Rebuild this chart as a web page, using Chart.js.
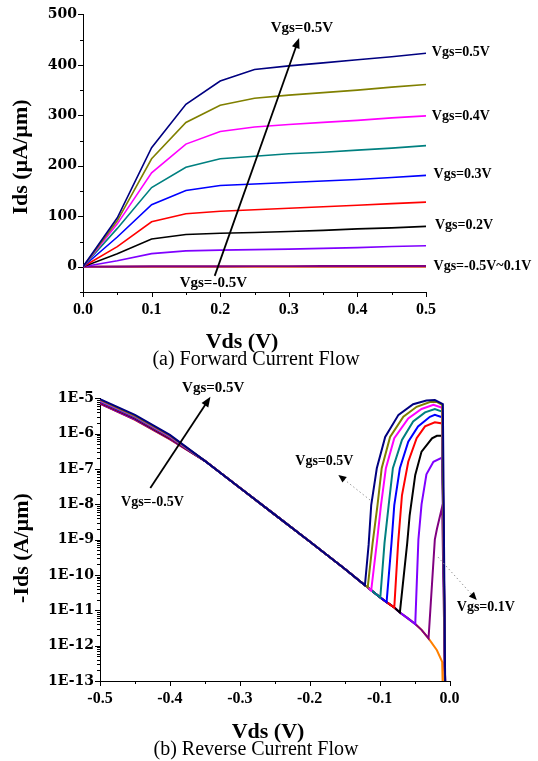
<!DOCTYPE html>
<html>
<head>
<meta charset="utf-8">
<script src="https://cdn.jsdelivr.net/npm/chart.js@4.4.0/dist/chart.umd.min.js"></script>
<style>
  html, body { margin: 0; padding: 0; background: #fff; }
  #wrap { position: relative; width: 538px; height: 761px; }
  canvas { position: absolute; left: 0; }
</style>
</head>
<body>
<div id="wrap">
  <canvas id="forward" width="538" height="372" style="top:0"></canvas>
  <canvas id="reverse" width="538" height="389" style="top:372px"></canvas>
</div>
<script>
// ---- (a) forward current, Ids in uA/um ----
const fwdVds = [0, 0.05, 0.1, 0.15, 0.2, 0.25, 0.3, 0.35, 0.4, 0.45, 0.5];
const idsF050 = [0, 97, 236, 322, 368, 391, 398, 404, 410, 416, 423];
const idsF045 = [0, 91, 214, 286, 320, 334, 340, 345, 350, 356, 361];
const idsF040 = [0, 85, 186, 243, 268, 277, 282, 286, 290, 295, 299];
const idsF035 = [0, 76, 157, 197, 214, 219, 224, 227, 231, 235, 240];
const idsF030 = [0, 59, 123, 151, 161, 164, 167, 170, 173, 177, 181];
const idsF025 = [0, 40, 89, 105, 110, 113, 116, 119, 122, 125, 128];
const idsF020 = [0, 26, 55, 64, 66.5, 68, 70, 72, 75, 77, 80];
const idsF015 = [0, 12, 26, 31.5, 33, 34, 35, 36.5, 38, 40, 41.5];
const idsF010 = [0, 0.3, 0.6, 0.8, 0.9, 1, 1, 1.1, 1.1, 1.2, 1.2];
const idsFlow = [0, 0, 0, 0, 0, 0, 0, 0, 0, 0, 0];
const fwdSeries = [idsF050, idsF045, idsF040, idsF035, idsF030, idsF025, idsF020, idsF015, idsF010, idsFlow];

// ---- (b) reverse current, -Ids in A/um ----
const vgsNames = ['0.5', '0.45', '0.4', '0.35', '0.3', '0.25', '0.2', '0.15', '0.1', '-0.5~0.05'];
const revHeadVds = [-0.5, -0.45, -0.4];
const revHeadIds = [
  [9.4e-6, 3.4e-6, 9.2e-7],
  [9.0e-6, 3.2e-6, 8.8e-7],
  [8.6e-6, 3.1e-6, 8.4e-7],
  [8.3e-6, 3.0e-6, 8.1e-7],
  [8.0e-6, 2.9e-6, 7.9e-7],
  [7.7e-6, 2.8e-6, 7.6e-7],
  [7.5e-6, 2.7e-6, 7.4e-7],
  [7.3e-6, 2.6e-6, 7.2e-7],
  [7.1e-6, 2.5e-6, 7.0e-7],
  [7.0e-6, 2.45e-6, 6.9e-7]
];
const revEnvVds = [-0.35, -0.3, -0.25, -0.2, -0.15, -0.121, -0.117, -0.112, -0.099, -0.09, -0.079, -0.071, -0.06, -0.049, -0.04, -0.03];
const revEnvIds = [1.7e-7, 2.95e-8, 5.1e-9, 8.9e-10, 1.5e-10, 5.1e-11, 4.5e-11, 3.7e-11, 2.3e-11, 1.7e-11, 1.2e-11, 8.7e-12, 6.0e-12, 4.1e-12, 2.8e-12, 1.6e-12];
const revFootVds = [-0.121, -0.117, -0.112, -0.099, -0.09, -0.079, -0.071, -0.049, -0.03, -0.03];
const revRiseVds = [
  [-0.1157, -0.112, -0.104, -0.092, -0.073, -0.052, -0.033, -0.021, -0.0095, -0.006],
  [-0.110, -0.103, -0.097, -0.085, -0.066, -0.047, -0.028, -0.019, -0.0105, -0.006],
  [-0.104, -0.098, -0.091, -0.079, -0.059, -0.040, -0.023, -0.0105, -0.006],
  [-0.093, -0.087, -0.081, -0.068, -0.052, -0.035, -0.021, -0.0105, -0.006],
  [-0.083, -0.079, -0.071, -0.059, -0.045, -0.028, -0.021, -0.0105, -0.006],
  [-0.0735, -0.068, -0.059, -0.047, -0.035, -0.021, -0.0105, -0.006],
  [-0.0605, -0.057, -0.049, -0.040, -0.025, -0.018, -0.0105, -0.006],
  [-0.0445, -0.040, -0.033, -0.023, -0.0105, -0.006],
  [-0.021, -0.018, -0.0105, -0.006],
  [-0.018, -0.0105, -0.0095]
];
const revRiseIds = [
  [7.1e-10, 9.5e-9, 1.05e-7, 8.1e-7, 3.4e-6, 6.8e-6, 8.7e-6, 8.9e-6, 6.8e-6, 3e-14],
  [8e-10, 9.5e-9, 1.05e-7, 8.1e-7, 3.0e-6, 5.75e-6, 7.8e-6, 8.0e-6, 6.5e-6, 3e-14],
  [8e-10, 9.5e-9, 1.05e-7, 7.4e-7, 2.7e-6, 5.0e-6, 6.5e-6, 5.4e-6, 3e-14],
  [8e-10, 9.5e-9, 1.05e-7, 6.6e-7, 2.2e-6, 4.0e-6, 5.0e-6, 4.2e-6, 3e-14],
  [8e-10, 9.5e-9, 1.05e-7, 5.9e-7, 1.6e-6, 3.0e-6, 3.4e-6, 2.9e-6, 3e-14],
  [8e-10, 1.8e-8, 1.6e-7, 7.4e-7, 1.6e-6, 2.1e-6, 1.95e-6, 3e-14],
  [8e-10, 4.9e-9, 6.8e-8, 3.1e-7, 7.4e-7, 8.7e-7, 8.7e-7, 3e-14],
  [1.0e-9, 1.0e-8, 7.1e-8, 1.6e-7, 2.1e-7, 3e-14],
  [1.0e-9, 2.0e-9, 8.5e-9, 3e-14],
  [7.4e-13, 3.5e-13, 5e-14]
];

const colors = ['#000080', '#808000', '#ff00ff', '#008080', '#0000ff', '#ff0000', '#000000', '#7f00ff', '#800080', '#ff8000'];

const SERIF = '"Liberation Serif", "Times New Roman", serif';
const tickFontY = { family: '"DejaVu Serif", serif', size: 14, weight: 'bold' };
const tickFontX = { family: SERIF, size: 16, weight: 'bold' };

function txt(ctx, s, x, y, font, align, rot) {
  ctx.save();
  ctx.font = font;
  ctx.fillStyle = '#000';
  ctx.textAlign = align || 'center';
  ctx.textBaseline = 'middle';
  ctx.translate(x, y);
  if (rot) ctx.rotate(rot);
  ctx.fillText(s, 0, 0);
  ctx.restore();
}

function arrow(ctx, x1, y1, x2, y2, dotted) {
  ctx.save();
  ctx.strokeStyle = dotted ? '#999' : '#000';
  ctx.lineWidth = dotted ? 1 : 1.8;
  if (dotted) ctx.setLineDash([1.5, 2.5]);
  const a = Math.atan2(y2 - y1, x2 - x1);
  const len = dotted ? 8 : 10, half = dotted ? 3.5 : 4;
  ctx.beginPath();
  ctx.moveTo(x1, y1);
  ctx.lineTo(x2 - len * 0.7 * Math.cos(a), y2 - len * 0.7 * Math.sin(a));
  ctx.stroke();
  ctx.setLineDash([]);
  ctx.fillStyle = '#000';
  ctx.beginPath();
  ctx.moveTo(x2, y2);
  ctx.lineTo(x2 - len * Math.cos(a) + half * Math.sin(a), y2 - len * Math.sin(a) - half * Math.cos(a));
  ctx.lineTo(x2 - len * Math.cos(a) - half * Math.sin(a), y2 - len * Math.sin(a) + half * Math.cos(a));
  ctx.closePath();
  ctx.fill();
  ctx.restore();
}

// tick marks: long for labelled ticks, short for the others
const tickMarks = {
  id: 'tickMarks',
  afterDraw(chart) {
    const { ctx, chartArea } = chart;
    const xs = chart.scales.x, ys = chart.scales.y;
    ctx.save();
    ctx.strokeStyle = '#000';
    ctx.lineWidth = 1;
    xs.ticks.forEach(t => {
      const p = Math.round(xs.getPixelForValue(t.value)) + 0.5;
      ctx.beginPath();
      ctx.moveTo(p, chartArea.bottom);
      ctx.lineTo(p, chartArea.bottom + (t.label ? 5 : 3));
      ctx.stroke();
    });
    ys.ticks.forEach(t => {
      const p = Math.round(ys.getPixelForValue(t.value)) + 0.5;
      ctx.beginPath();
      ctx.moveTo(chartArea.left, p);
      ctx.lineTo(chartArea.left - (t.label ? 5 : 3), p);
      ctx.stroke();
    });
    ctx.restore();
  }
};

const fwdNotes = {
  id: 'fwdNotes',
  afterDraw(chart) {
    const ctx = chart.ctx, xs = chart.scales.x, ys = chart.scales.y;
    const X = v => xs.getPixelForValue(v), Y = v => ys.getPixelForValue(v);
    const lab = 'bold 14px ' + SERIF;
    txt(ctx, 'Vgs=0.5V', X(0.5085), Y(424), lab, 'left');
    txt(ctx, 'Vgs=0.4V', X(0.5085), Y(298), lab, 'left');
    txt(ctx, 'Vgs=0.3V', X(0.511), Y(184), lab, 'left');
    txt(ctx, 'Vgs=0.2V', X(0.513), Y(81), lab, 'left');
    txt(ctx, 'Vgs=-0.5V~0.1V', X(0.511), Y(0), lab, 'left');
    txt(ctx, 'Vgs=0.5V', X(0.319), Y(472), 'bold 15px ' + SERIF, 'center');
    txt(ctx, 'Vgs=-0.5V', X(0.19), Y(-32), 'bold 15px ' + SERIF, 'center');
    arrow(ctx, X(0.192), Y(-18), X(0.315), Y(453), false);
    txt(ctx, 'Ids (\u00b5A/\u00b5m)', 21, 157, 'bold 22px ' + SERIF, 'center', -Math.PI / 2);
    txt(ctx, 'Vds (V)', 242, 342, 'bold 22px ' + SERIF, 'center');
    txt(ctx, '(a) Forward Current Flow', 256, 360, '20px ' + SERIF, 'center');
  }
};

const revNotes = {
  id: 'revNotes',
  afterDraw(chart) {
    const ctx = chart.ctx, xs = chart.scales.x, ys = chart.scales.y;
    const X = v => xs.getPixelForValue(v), Y = v => ys.getPixelForValue(v);
    const lab = 'bold 14px ' + SERIF;
    txt(ctx, 'Vgs=0.5V', X(-0.338), Y(1.95e-5), 'bold 15px ' + SERIF, 'center');
    txt(ctx, 'Vgs=-0.5V', X(-0.425), Y(1.15e-8), lab, 'center');
    arrow(ctx, X(-0.428), Y(2.9e-8), X(-0.342), Y(1.1e-5), false);
    txt(ctx, 'Vgs=0.5V', X(-0.179), Y(1.66e-7), lab, 'center');
    arrow(ctx, X(-0.1136), Y(1.32e-8), X(-0.159), Y(6.8e-8), true);
    arrow(ctx, X(-0.0164), Y(3.2e-10), X(0.039), Y(1.95e-11), true);
    txt(ctx, 'Vgs=0.1V', X(0.052), Y(1.23e-11), lab, 'center');
    txt(ctx, '-Ids (A/\u00b5m)', 22, 548 - 372, 'bold 22px ' + SERIF, 'center', -Math.PI / 2);
    txt(ctx, 'Vds (V)', 268, 732 - 372, 'bold 22px ' + SERIF, 'center');
    txt(ctx, '(b) Reverse Current Flow', 256, 750 - 372, '20px ' + SERIF, 'center');
  }
};

function tenth(v) {
  const k = Math.round(v * 20);
  if (k % 2 !== 0) return '';
  return Math.abs(v) < 1e-9 ? '0.0' : v.toFixed(1);
}

const axisBase = {
  grid: { drawOnChartArea: false, drawTicks: false },
  border: { display: true, color: '#000', width: 1 }
};

// (a)
new Chart(document.getElementById('forward'), {
  type: 'line',
  data: {
    datasets: fwdSeries.map((ids, i) => ({
      label: 'Vgs=' + vgsNames[i] + 'V',
      data: fwdVds.map((v, k) => ({ x: v, y: ids[k] })),
      borderColor: colors[i],
      borderWidth: i >= 8 ? 2.2 : 1.6,
      pointRadius: 0,
      tension: 0
    }))
  },
  options: {
    responsive: false,
    animation: false,
    devicePixelRatio: 1,
    layout: { padding: { top: 12.5, right: 112, left: 0, bottom: 0 } },
    plugins: { legend: { display: false }, tooltip: { enabled: false } },
    scales: {
      x: {
        ...axisBase,
        type: 'linear', min: 0, max: 0.5,
        ticks: { stepSize: 0.05, autoSkip: false, maxRotation: 0, padding: 8, color: '#000', font: tickFontX, callback: tenth },
        afterFit: s => { s.height = 80; }
      },
      y: {
        ...axisBase,
        min: -50, max: 500,
        ticks: { stepSize: 50, autoSkip: false, padding: 6, color: '#000', font: tickFontY,
          callback: v => (Math.round(v) % 100 === 0 ? String(Math.round(v)) : '') },
        afterFit: s => { s.width = 83; }
      }
    }
  },
  plugins: [tickMarks, fwdNotes]
});

// (b)
new Chart(document.getElementById('reverse'), {
  type: 'line',
  data: {
    datasets: colors.map((c, i) => {
      const pts = revHeadVds.map((v, k) => ({ x: v, y: revHeadIds[i][k] }));
      revEnvVds.forEach((v, k) => { if (v <= revFootVds[i] + 1e-9) pts.push({ x: v, y: revEnvIds[k] }); });
      revRiseVds[i].forEach((v, k) => pts.push({ x: v, y: revRiseIds[i][k] }));
      return { label: 'Vgs=' + vgsNames[i] + 'V', data: pts, borderColor: c, borderWidth: 2, pointRadius: 0, tension: 0 };
    })
  },
  options: {
    responsive: false,
    animation: false,
    devicePixelRatio: 1,
    layout: { padding: { top: 26.3, right: 88.5, left: 0, bottom: 0 } },
    plugins: { legend: { display: false }, tooltip: { enabled: false } },
    scales: {
      x: {
        ...axisBase,
        type: 'linear', min: -0.5, max: 0,
        ticks: { stepSize: 0.05, autoSkip: false, maxRotation: 0, padding: 8, color: '#000', font: tickFontX, callback: tenth },
        afterFit: s => { s.height = 80; }
      },
      y: {
        ...axisBase,
        type: 'logarithmic', min: 1e-13, max: 1e-5,
        afterBuildTicks: s => {
          const t = [];
          for (let e = -13; e < -5; e++) for (let m = 1; m <= 9; m++) t.push({ value: m * Math.pow(10, e) });
          t.push({ value: 1e-5 });
          s.ticks = t;
        },
        ticks: { autoSkip: false, padding: 6, color: '#000', font: tickFontY,
          callback: v => {
            const e = Math.log10(v);
            return Math.abs(e - Math.round(e)) < 1e-6 ? '1E' + Math.round(e) : '';
          } },
        afterFit: s => { s.width = 100; }
      }
    }
  },
  plugins: [tickMarks, revNotes]
});
</script>
</body>
</html>
